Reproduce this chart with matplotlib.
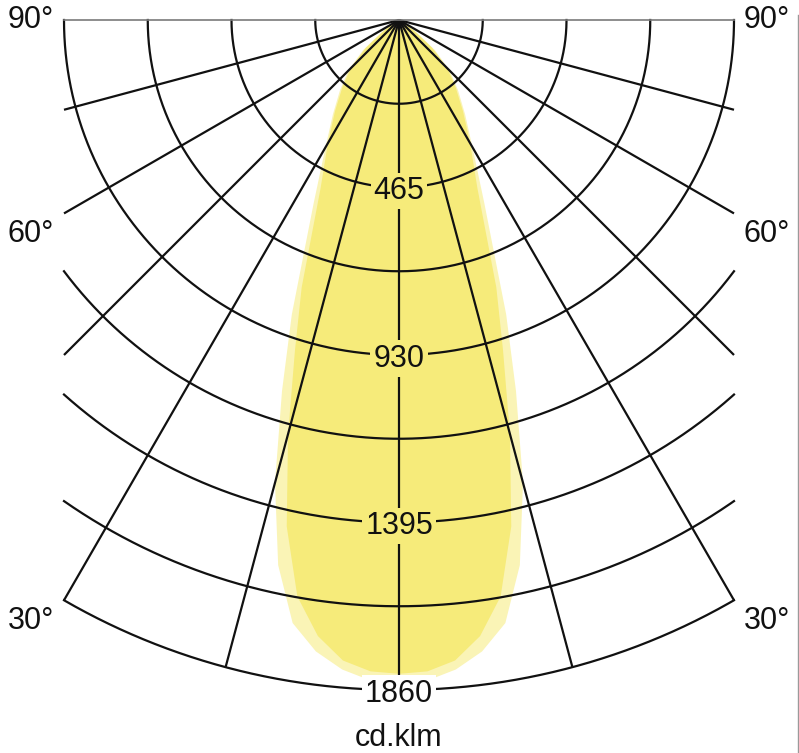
import numpy as np
import matplotlib.pyplot as plt
from matplotlib.path import Path

plt.rcParams['font.family'] = ['Liberation Sans', 'DejaVu Sans']

# ------------------------------------------------------------
# data: luminous intensity (cd/klm) vs gamma angle (deg from nadir)
# ------------------------------------------------------------
gamma = np.array([0, 2.5, 5, 7.5, 10, 12.5, 15, 17.5, 20, 25, 30, 35, 40, 45, 50, 55, 60, 90])
i_wide = np.array([1840, 1835, 1810, 1768, 1700, 1550, 1330, 1080, 870, 560, 408, 320, 255, 200, 130, 58, 15, 0])
i_narrow = np.array([1815, 1810, 1785, 1725, 1625, 1440, 1190, 960, 790, 515, 395, 310, 245, 190, 120, 50, 12, 0])

ring_values = np.arange(232.5, 1860.1, 232.5)   # all circles
ring_labels = [465, 930, 1395, 1860]             # labelled circles
spoke_angles = np.arange(-75, 76, 15)
angle_labels = [90, 60, 30]
unit_label = "cd.klm"

r_max = 1860
box_half = 930   # diagram is cut to |x| <= 930

# ------------------------------------------------------------
# figure setup (pixel based scale)
# ------------------------------------------------------------
W, H = 799, 753
cx, cy = 399, 20            # pixel position of the centre
scale = 670 / r_max         # px per cd

fig = plt.figure(figsize=(W / 100, H / 100), dpi=100)
ax = fig.add_axes([0, 0, 1, 1])
ax.set_xlim(-cx / scale, (W - cx) / scale)
ax.set_ylim(-(H - cy) / scale, cy / scale)
ax.axis('off')

c_pale = '#FAF4B6'
c_sat = '#F6EB7A'
c_line = '#111111'


def beam_outline(intens):
    g = np.radians(np.concatenate([-gamma[::-1], gamma[1:]]))
    r = np.concatenate([intens[::-1], intens[1:]])
    return r * np.sin(g), -r * np.cos(g)


xw, yw = beam_outline(i_wide)
xn, yn = beam_outline(i_narrow)
ax.fill(xw, yw, color=c_pale, lw=0, zorder=1)
ax.fill(xn, yn, color=c_sat, lw=0, zorder=2)

# ------------------------------------------------------------
# grid: circles + spokes
# ------------------------------------------------------------
for r in ring_values:
    lim = 90 if r <= box_half else np.degrees(np.arcsin(box_half / r))
    t = np.radians(np.linspace(-lim, lim, 500))
    ax.plot(r * np.sin(t), -r * np.cos(t), color=c_line, lw=1.6, zorder=3)

for a in spoke_angles:
    rad = np.radians(a)
    r_end = r_max if a == 0 else min(r_max, box_half / abs(np.sin(rad)))
    ax.plot([0, r_end * np.sin(rad)], [0, -r_end * np.cos(rad)],
            color=c_line, lw=1.6, zorder=3, solid_capstyle='butt')

# horizontal (90 deg) line
ax.plot([-box_half, box_half], [0, 0], color='#7a7a7a', lw=1.2, zorder=3)

# ------------------------------------------------------------
# labels
# ------------------------------------------------------------
sat_path = Path(np.column_stack([xn, yn]))
for v in ring_labels:
    fc = c_sat if sat_path.contains_point((0, -v)) else 'white'
    ax.text(0, -v, str(v), ha='center', va='center_baseline', fontsize=22,
            color='#111111', zorder=5,
            bbox=dict(boxstyle='square,pad=0.1', fc=fc, ec='none'))

lab_dx = 1022
lab_drop = 15   # cd, small drop below the spoke end
for a in angle_labels:
    if a == 90:
        y, va = 0, 'center'
    else:
        y, va = -box_half / np.tan(np.radians(a)) - lab_drop, 'top'
    for side in (-1, 1):
        ax.text(side * lab_dx, y, f"{a}°", ha='center', va=va, fontsize=22,
                color='#111111', zorder=5)

ax.text(0, -(738 - cy) / scale, unit_label, ha='center', va='center',
        fontsize=22, color='#111111')

# thin frame line on the right edge
fig.add_artist(plt.Line2D([797.5 / W, 797.5 / W], [0, 0.98], color='#9a9a9a', lw=1))

fig.savefig('out.png', dpi=100)
